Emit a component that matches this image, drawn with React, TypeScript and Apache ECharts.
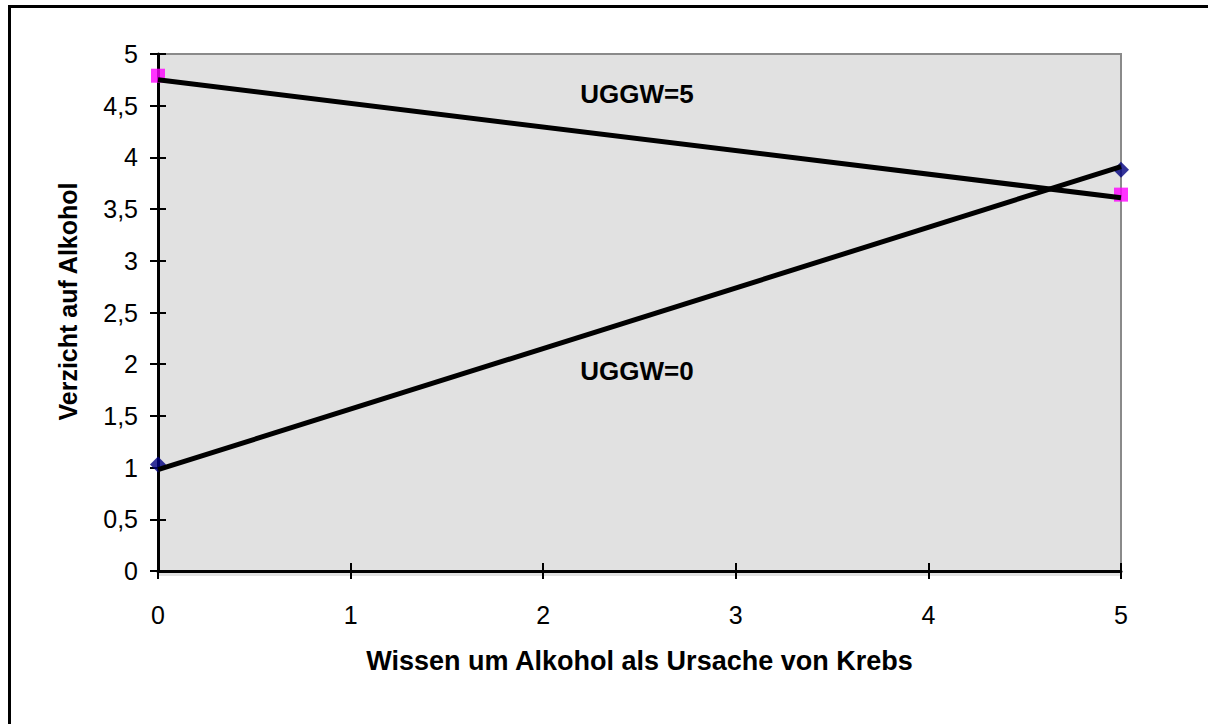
import React, { useEffect, useRef } from "react";
import * as echarts from "echarts";

const xTicks = [0, 1, 2, 3, 4, 5];
const uggw0Points: [number, number][] = [[0, 1.03], [5, 3.88]];
const uggw5Points: [number, number][] = [[0, 4.79], [5, 3.64]];
const uggw0Line: [number, number][] = [[0, 0.98], [5, 3.91]];
const uggw5Line: [number, number][] = [[0, 4.75], [5, 3.61]];
const xTitle = "Wissen um Alkohol als Ursache von Krebs";
const yTitle = "Verzicht auf Alkohol";
const labels = ["UGGW=5", "UGGW=0"];

const FONT = "'Liberation Sans', Arial, sans-serif";

export default function App() {
  const ref = useRef<HTMLDivElement>(null);
  useEffect(() => {
    if (!ref.current) return;
    const chart = echarts.init(ref.current, null, { renderer: "svg" });
    const fmt = (v: number) => String(v).replace(".", ",");
    const baseY = { type: "value" as const, min: 0, max: 5, interval: 0.5 };
    const baseX = { type: "value" as const, min: xTicks[0], max: xTicks[xTicks.length - 1], interval: 1 };
    chart.setOption({
      animation: false,
      backgroundColor: "#ffffff",
      grid: {
        left: 158,
        top: 54,
        right: 87,
        bottom: 153,
        show: true,
        backgroundColor: "#e1e1e1",
        borderColor: "#8a8a8a",
        borderWidth: 2,
      },
      xAxis: [
        {
          ...baseX,
          position: "bottom",
          name: xTitle,
          nameLocation: "middle",
          nameGap: 76,
          nameTextStyle: { fontFamily: FONT, fontSize: 27, fontWeight: "bold", color: "#000" },
          axisLine: { show: true, lineStyle: { color: "#000", width: 3 } },
          axisTick: { show: true, length: 8, inside: false, lineStyle: { color: "#000", width: 2 } },
          axisLabel: { fontFamily: FONT, fontSize: 25, color: "#000", margin: 31, formatter: fmt },
          splitLine: { show: false },
        },
        {
          ...baseX,
          position: "bottom",
          axisLine: { show: false },
          axisTick: { show: true, length: 8, inside: true, lineStyle: { color: "#000", width: 2 } },
          axisLabel: { show: false },
          splitLine: { show: false },
        },
      ],
      yAxis: [
        {
          ...baseY,
          position: "left",
          name: yTitle,
          nameLocation: "middle",
          nameGap: 78,
          nameRotate: 90,
          nameTextStyle: {
            fontFamily: FONT,
            fontSize: 25,
            fontWeight: "bold",
            color: "#000",
            padding: [0, 0, 0, 22],
          },
          axisLine: { show: true, lineStyle: { color: "#000", width: 3 } },
          axisTick: { show: true, length: 8, inside: false, lineStyle: { color: "#000", width: 2 } },
          axisLabel: { fontFamily: FONT, fontSize: 25, color: "#000", margin: 20, formatter: fmt },
          splitLine: { show: false },
        },
        {
          ...baseY,
          position: "left",
          axisLine: { show: false },
          axisTick: { show: true, length: 8, inside: true, lineStyle: { color: "#000", width: 2 } },
          axisLabel: { show: false },
          splitLine: { show: false },
        },
      ],
      series: [
        {
          type: "scatter",
          data: uggw0Points,
          symbol: "diamond",
          symbolSize: 16,
          itemStyle: { color: "#000080" },
          z: 2,
        },
        {
          type: "scatter",
          data: uggw5Points,
          symbol: "rect",
          symbolSize: 14,
          itemStyle: { color: "#ff00ff" },
          z: 2,
        },
        {
          type: "line",
          data: uggw0Line,
          showSymbol: false,
          symbol: "none",
          lineStyle: { color: "#000", width: 5 },
          z: 3,
        },
        {
          type: "line",
          data: uggw5Line,
          showSymbol: false,
          symbol: "none",
          lineStyle: { color: "#000", width: 5 },
          z: 3,
        },
      ],
      graphic: [
        {
          type: "rect",
          left: 7,
          top: 4,
          shape: { width: 1240, height: 760 },
          style: { fill: "none", stroke: "#000", lineWidth: 3 },
          silent: true,
        },
        {
          type: "rect",
          x: 158,
          y: 571,
          z: -10,
          shape: { width: 963, height: 5 },
          style: { fill: "#e1e1e1" },
          silent: true,
        },
        {
          type: "text",
          x: 637,
          y: 94,
          style: {
            text: labels[0],
            font: `bold 26px ${FONT}`,
            fill: "#000",
            align: "center",
            verticalAlign: "middle",
          },
        },
        {
          type: "text",
          x: 637,
          y: 371,
          style: {
            text: labels[1],
            font: `bold 26px ${FONT}`,
            fill: "#000",
            align: "center",
            verticalAlign: "middle",
          },
        },
      ],
    });
    return () => chart.dispose();
  }, []);
  return (
    <div
      ref={ref}
      style={{ position: "absolute", left: 0, top: 0, width: 1208, height: 724, overflow: "hidden" }}
    />
  );
}
